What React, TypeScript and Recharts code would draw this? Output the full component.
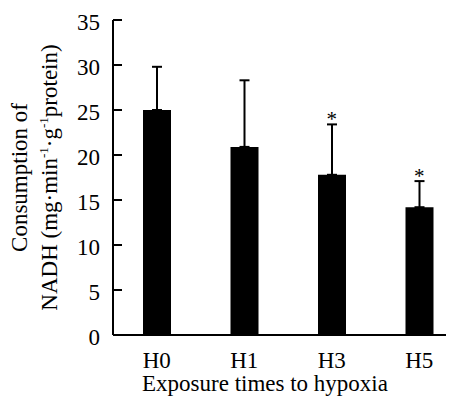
import React from 'react';
import { ComposedChart, Bar, Line, XAxis, YAxis, ErrorBar, LabelList, Label } from 'recharts';

// values
const groups = ['H0', 'H1', 'H3', 'H5'];
const nadhMeans = [25.0, 20.9, 17.8, 14.2];
const nadhSd = [4.8, 7.4, 5.6, 2.9];
const significance = ['', '', '*', '*'];
const yTicks = [0, 5, 10, 15, 20, 25, 30, 35];

const FONT = '"Liberation Serif", "Times New Roman", serif';
const FS = 23;

const data = groups.map((g, i) => ({
    group: g,
    mean: nadhMeans[i],
    err: [0, nadhSd[i]],
    starAt: significance[i] ? nadhMeans[i] + nadhSd[i] : null,
    sig: significance[i],
}));

const YTick = (props: any) => {
    const { x, y, payload } = props;
    return (
        <g>
            <line x1={x} y1={y} x2={x + 9} y2={y} stroke="#000" strokeWidth={2} />
            <text x={x - 13} y={y + 10} textAnchor="end" fontFamily={FONT} fontSize={FS} fill="#000">
                {payload.value}
            </text>
        </g>
    );
};

const XTick = (props: any) => {
    const { x, y, payload } = props;
    return (
        <text x={x} y={y + 33} textAnchor="middle" fontFamily={FONT} fontSize={FS} fill="#000">
            {payload.value}
        </text>
    );
};

const YTitle = (props: any) => {
    const vb = props.viewBox;
    const cy = vb.y + vb.height / 2;
    return (
        <g fontFamily={FONT} fontSize={FS} fill="#000">
            <text transform={`translate(19, ${cy}) rotate(-90)`} textAnchor="middle">
                Consumption of
            </text>
            <text transform={`translate(49, ${cy}) rotate(-90)`} textAnchor="middle">
                NADH (mg·min
                <tspan fontSize={13} dy={-9}>-1</tspan>
                <tspan dy={9}>·g</tspan>
                <tspan fontSize={13} dy={-9}>-1</tspan>
                <tspan dy={9}>protein)</tspan>
            </text>
        </g>
    );
};

const XTitle = (props: any) => {
    const vb = props.viewBox;
    return (
        <text x={vb.x + 152} y={vb.y + 56} textAnchor="middle" fontFamily={FONT} fontSize={FS} fill="#000">
            Exposure times to hypoxia
        </text>
    );
};

const Star = (props: any) => {
    const { x, y, value } = props;
    if (!value || y == null) return null;
    return (
        <text x={x} y={y + 2} textAnchor="middle" fontFamily={FONT} fontSize={21} fill="#000">
            {value}
        </text>
    );
};

export default function App() {
    return (
        <div style={{ width: 446, height: 388, overflow: 'hidden' }}>
            <ComposedChart width={460} height={388} data={data} margin={{ top: 12, right: 5, left: 0, bottom: 0 }}>
                <XAxis
                    dataKey="group"
                    height={61}
                    axisLine={{ stroke: '#000', strokeWidth: 2 }}
                    tickLine={false}
                    tickSize={0}
                    tickMargin={0}
                    tick={<XTick />}
                    interval={0}
                >
                    <Label content={<XTitle />} />
                </XAxis>
                <YAxis
                    domain={[0, 35]}
                    ticks={yTicks}
                    width={105}
                    axisLine={{ stroke: '#000', strokeWidth: 2 }}
                    tickLine={false}
                    tickSize={0}
                    tickMargin={0}
                    tick={<YTick />}
                    interval={0}
                >
                    <Label content={<YTitle />} />
                </YAxis>
                <Bar dataKey="mean" fill="#000" barSize={28} isAnimationActive={false}>
                    <ErrorBar dataKey="err" direction="y" width={5} stroke="#000" strokeWidth={2} isAnimationActive={false} />
                </Bar>
                <Line dataKey="starAt" stroke="none" dot={false} activeDot={false} isAnimationActive={false}>
                    <LabelList dataKey="sig" content={<Star />} />
                </Line>
            </ComposedChart>
        </div>
    );
}
